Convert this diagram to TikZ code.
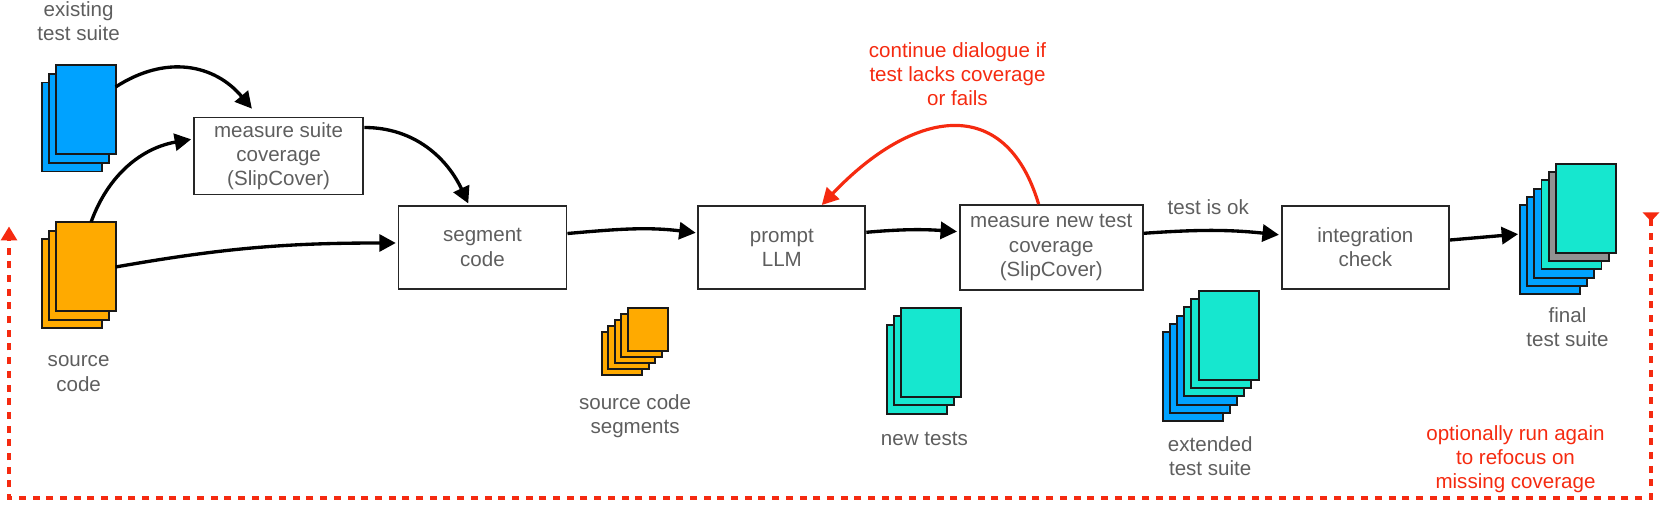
\documentclass[tikz,border=0pt]{standalone}
\usepackage{fontspec}
\setmainfont{Liberation Sans}
\usetikzlibrary{arrows.meta, positioning}
\definecolor{docblue}{HTML}{00A2FF}
\definecolor{docteal}{HTML}{16E7CF}
\definecolor{docorange}{HTML}{FFAA00}
\definecolor{docgray}{HTML}{929292}
\definecolor{loopred}{HTML}{F52A10}
\definecolor{txtgray}{HTML}{5E5E5E}
\begin{document}
\begin{tikzpicture}[x=0.02cm, y=-0.02cm,
    txt/.style={font=\fontsize{11.7}{13.8}\selectfont, text=txtgray, align=center, inner sep=0pt},
    redtxt/.style={txt, text=loopred},
    stepbox/.style={draw=black!85, line width=1.1pt, txt, minimum height=1.66cm},
    sheet/.style={draw=black!90, line width=1.1pt, inner sep=0pt, outer sep=0pt, minimum width=1.2cm, minimum height=1.78cm, anchor=north west},
    smallsheet/.style={sheet, minimum width=0.808cm, minimum height=0.86cm},
    flow/.style={-{Triangle[length=0.33cm, width=0.34cm]}, line width=1.9pt, shorten >=1pt},
    back/.style={-{Triangle[length=0.33cm, width=0.34cm]}, line width=1.8pt, draw=loopred}
]
    % stacks, back sheet first
    \foreach \i/\col in {2/docblue, 1/docblue, 0/docblue}
        \node[sheet, fill=\col] (suite\i) at ({55.6-\i*7}, {65.3+\i*8.6}) {};
    \foreach \i/\col in {2/docorange, 1/docorange, 0/docorange}
        \node[sheet, fill=\col] (src\i) at ({55.6-\i*7}, {222+\i*8.6}) {};
    \foreach \i/\col in {4/docorange, 3/docorange, 2/docorange, 1/docorange, 0/docorange}
        \node[smallsheet, fill=\col] (seg\i) at ({627.9-\i*6.5}, {307.7+\i*6.1}) {};
    \foreach \i/\col in {2/docteal, 1/docteal, 0/docteal}
        \node[sheet, fill=\col] (new\i) at ({901.4-\i*7}, {307.7+\i*8.6}) {};
    \foreach \i/\col in {5/docblue, 4/docblue, 3/docblue, 2/docteal, 1/docteal, 0/docteal}
        \node[sheet, fill=\col] (ext\i) at ({1198.6-\i*7.2}, {291+\i*8.2}) {};
    \foreach \i/\col in {5/docblue, 4/docblue, 3/docblue, 2/docteal, 1/docgray, 0/docteal}
        \node[sheet, fill=\col] (final\i) at ({1555.9-\i*7.2}, {164+\i*8.2}) {};

    % stack labels
    \node[txt, above=0.65cm of suite1] (suitelbl) {existing\\test suite};
    \node[txt, below=0.72cm of src1] (srclbl) {source\\code};
    \node[txt, below=0.62cm of seg2] (seglbl) {source code\\segments};
    \node[txt, below=0.54cm of new1] (newlbl) {new tests};
    \node[txt, below=0.8cm of ext2, xshift=-0.08cm] (extlbl) {extended\\test suite};
    \node[txt, below=0.76cm of final2, xshift=-0.08cm] (finallbl) {final\\test suite};

    % boxes
    \node[stepbox, minimum width=3.39cm, minimum height=1.54cm] (measure) at (278.6, 156) {measure suite\\coverage\\(SlipCover)};
    \node[stepbox, minimum width=3.36cm] (segment) at (482.5, 247.5) {segment\\code};
    \node[stepbox, minimum width=3.34cm, right=2.6cm of segment] (prompt) {prompt\\LLM};
    \node[stepbox, minimum width=3.66cm, minimum height=1.7cm, right=1.85cm of prompt] (measurenew) {measure new test\\coverage\\(SlipCover)};
    \node[stepbox, minimum width=3.35cm, right=2.74cm of measurenew] (integ) {integration\\check};

    % connectors
    \coordinate (suitein) at (253, 110);
    \draw[flow] (suite0.east |- 0, 87) to[out=33, in=130, looseness=1.1] (suitein);
    \draw[flow] (src0.north) ++(5.5,0) to[out=70, in=190] (measure.west |- 0, 139);
    \draw[flow] (src0.east |- 0, 267) to[out=10, in=180] (segment.west |- 0, 243);
    \draw[flow] (measure.east |- 0, 127.5) to[out=0, in=115] (segment.north -| 469, 0);
    \draw[flow] (segment.east |- 0, 233.5) to[out=5, in=173] (prompt.west |- 0, 233);
    \draw[flow] (prompt.east |- 0, 232.3) to[out=5, in=176] (measurenew.west |- 0, 231.7);
    \draw[flow] (measurenew.east |- 0, 233.3) to[out=4, in=174] node[midway, txt, above=0.29cm, xshift=-0.08cm] (oklbl) {test is ok} (integ.west |- 0, 235);
    \draw[flow] (integ.east |- 0, 240) -- (final5.west |- 0, 234);

    % red loops
    \draw[back] (measurenew.north -| 1038.6, 0) .. controls (1005, 92) and (912, 110) .. (prompt.north -| 821.8, 0);
    \node[redtxt] (againlbl) at (957.5, 74) {continue dialogue if\\test lacks coverage\\or fails};
    \node[redtxt] (optlbl) at (1515.5, 459) {optionally run again\\to refocus on\\missing coverage};
    \coordinate (loopstart) at (1651, 212.5);
    \coordinate (loopend) at (9, 226.5);
    \draw[{Triangle[reversed, length=0.18cm, width=0.32cm]}-{Triangle[length=0.28cm, width=0.32cm]}, line width=1.8pt, draw=loopred, dash pattern=on 0.14cm off 0.134cm]
        (loopstart) |- (9, 498) -- (loopend);
    \useasboundingbox (0, 0) rectangle (1660, 506);
\end{tikzpicture}
\end{document}
